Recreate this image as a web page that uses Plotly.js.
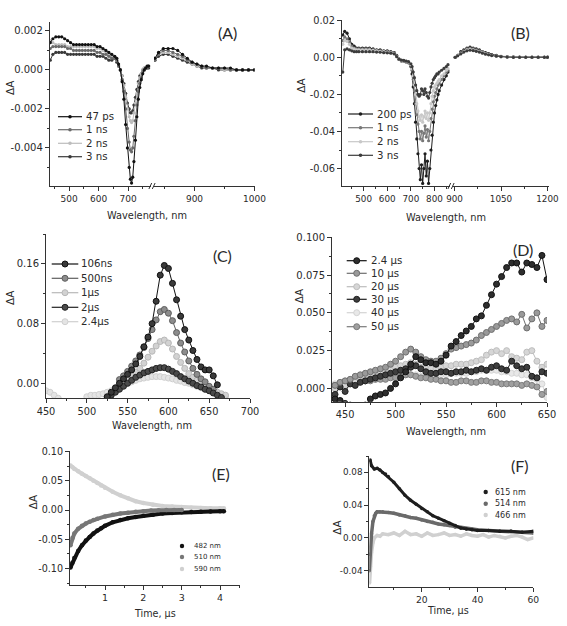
<!DOCTYPE html>
<html><head><meta charset="utf-8">
<script src="https://cdn.plot.ly/plotly-3.0.1.min.js"></script>
<style>html,body{margin:0;padding:0;background:#fff;}#chart{width:567px;height:626px;}</style>
</head><body><div id="chart"></div>
<script>
// ---------------- Panel A ----------------
const A_names = ['47 ps','1 ns','2 ns','3 ns'];
const A_wlL = [436,445,455,465,475,485,495,505,515,525,535,545,555,565,575,585,595,605,615,625,635,645,655,662,668,674,680,686,692,698,704,708,712,716,720,725,730,735,740,745,750,755,760,765,770];
const A_47ps = [0.0014,0.0016,0.0017,0.0017,0.0017,0.0016,0.0015,0.0014,0.0013,0.0013,0.0013,0.0013,0.0013,0.0013,0.0013,0.0013,0.0012,0.0012,0.0011,0.0010,0.0009,0.0008,0.0007,0.0006,0.0003,0.0000,-0.0006,-0.0015,-0.0028,-0.0040,-0.0050,-0.0056,-0.0058,-0.0055,-0.0047,-0.0036,-0.0024,-0.0015,-0.0009,-0.0005,-0.0002,0.0000,0.0001,0.0002,0.0002];
const A_1ns = [0.0011,0.0012,0.0012,0.0012,0.0012,0.0012,0.0011,0.0011,0.0010,0.0010,0.0010,0.0010,0.0010,0.0010,0.0010,0.0010,0.0009,0.0009,0.0008,0.0008,0.0007,0.0006,0.0006,0.0005,0.0002,0.0000,-0.0005,-0.0011,-0.0020,-0.0030,-0.0037,-0.0041,-0.0042,-0.0040,-0.0034,-0.0026,-0.0018,-0.0011,-0.0007,-0.0004,-0.0001,0.0000,0.0001,0.0001,0.0002];
const A_2ns = [0.0015,0.0014,0.0013,0.0013,0.0013,0.0013,0.0012,0.0012,0.0012,0.0012,0.0012,0.0012,0.0012,0.0012,0.0012,0.0012,0.0011,0.0011,0.0010,0.0009,0.0008,0.0007,0.0007,0.0005,0.0002,0.0000,-0.0003,-0.0008,-0.0014,-0.0020,-0.0024,-0.0026,-0.0027,-0.0026,-0.0022,-0.0017,-0.0012,-0.0007,-0.0004,-0.0002,0.0000,0.0001,0.0001,0.0002,0.0002];
const A_3ns = [0.0005,0.0008,0.0009,0.0009,0.0009,0.0009,0.0008,0.0008,0.0008,0.0008,0.0008,0.0008,0.0008,0.0008,0.0008,0.0008,0.0007,0.0007,0.0007,0.0006,0.0005,0.0005,0.0006,0.0004,0.0002,0.0000,-0.0003,-0.0007,-0.0012,-0.0017,-0.0020,-0.0022,-0.0022,-0.0021,-0.0018,-0.0014,-0.0010,-0.0006,-0.0003,-0.0002,0.0000,0.0001,0.0001,0.0001,0.0001];
const A_wlR = [834,840,848,856,864,872,880,888,896,904,912,920,930,940,950,960,970,980,990,1000];
const A_47psR = [0.0006,0.0009,0.0011,0.0011,0.0011,0.0010,0.0008,0.0006,0.0004,0.0003,0.0002,0.0002,0.0001,0.0001,0.0001,0.0001,0.0000,0.0000,0.0000,0.0000];
const A_1nsR = [0.0005,0.0008,0.0010,0.0010,0.0009,0.0008,0.0007,0.0005,0.0004,0.0003,0.0002,0.0001,0.0001,0.0001,0.0001,0.0000,0.0000,0.0000,0.0000,0.0000];
const A_2nsR = [0.0006,0.0008,0.0009,0.0009,0.0008,0.0007,0.0006,0.0005,0.0003,0.0002,0.0002,0.0001,0.0001,0.0001,0.0000,0.0000,0.0000,0.0000,0.0000,0.0000];
const A_3nsR = [0.0005,0.0007,0.0008,0.0008,0.0007,0.0006,0.0005,0.0004,0.0003,0.0002,0.0001,0.0001,0.0001,0.0000,0.0000,0.0000,0.0000,0.0000,0.0000,0.0000];
const A_ytick = [-0.004,-0.002,0,0.002];
const A_ytext = ['-0.004','-0.002','0.000','0.002'];

// ---------------- Panel B ----------------
const B_names = ['200 ps','1 ns','2 ns','3 ns'];
const B_wlL = [412,420,430,440,450,460,470,480,495,510,525,540,555,570,585,600,615,630,640,650,660,670,680,690,700,705,710,715,720,725,730,735,740,745,750,755,760,765,770,775,780,785,790,795,800,805,810,815,820,830,840,850,857];
const B_200ps = [0.012,0.014,0.013,0.010,0.007,0.006,0.005,0.005,0.005,0.005,0.005,0.0045,0.004,0.004,0.0035,0.0035,0.003,0.0025,0.001,-0.001,-0.002,-0.002,-0.0025,-0.003,-0.005,-0.009,-0.016,-0.025,-0.035,-0.044,-0.052,-0.060,-0.066,-0.058,-0.068,-0.060,-0.052,-0.064,-0.056,-0.068,-0.060,-0.050,-0.042,-0.035,-0.030,-0.026,-0.023,-0.020,-0.018,-0.015,-0.012,-0.010,-0.008];
const B_1ns = [0.009,0.011,0.010,0.008,0.006,0.005,0.0045,0.0045,0.0045,0.0045,0.0045,0.004,0.0038,0.0035,0.0033,0.003,0.0028,0.0022,0.0008,-0.001,-0.0018,-0.002,-0.0023,-0.0028,-0.0045,-0.007,-0.012,-0.018,-0.025,-0.031,-0.036,-0.040,-0.044,-0.040,-0.045,-0.041,-0.037,-0.043,-0.039,-0.045,-0.040,-0.033,-0.028,-0.024,-0.021,-0.019,-0.017,-0.015,-0.014,-0.012,-0.010,-0.008,-0.007];
const B_2ns = [0.007,0.009,0.0085,0.007,0.005,0.0045,0.004,0.004,0.004,0.004,0.004,0.0037,0.0035,0.0032,0.003,0.0028,0.0025,0.002,0.0005,-0.001,-0.0016,-0.0018,-0.002,-0.0025,-0.004,-0.006,-0.010,-0.015,-0.020,-0.025,-0.029,-0.032,-0.034,-0.031,-0.035,-0.032,-0.029,-0.033,-0.030,-0.034,-0.030,-0.025,-0.021,-0.018,-0.016,-0.015,-0.014,-0.013,-0.012,-0.010,-0.009,-0.007,-0.006];
const B_3ns = [-0.008,0.004,0.0045,0.004,0.0035,0.003,0.003,0.003,0.003,0.003,0.003,0.003,0.0028,0.0027,0.0025,0.0024,0.0022,0.0018,0.0003,-0.001,-0.0015,-0.0017,-0.002,-0.0023,-0.0035,-0.005,-0.008,-0.011,-0.015,-0.018,-0.020,-0.021,-0.020,-0.017,-0.018,-0.020,-0.017,-0.019,-0.021,-0.022,-0.019,-0.016,-0.014,-0.012,-0.011,-0.010,-0.009,-0.009,-0.008,-0.007,-0.006,-0.005,-0.004];
const B_wlR = [902,910,920,930,940,950,960,970,980,990,1000,1010,1020,1035,1050,1070,1090,1110,1130,1150,1170,1190,1200];
const B_200psR = [0.000,0.001,0.003,0.004,0.005,0.0055,0.005,0.0045,0.004,0.003,0.0025,0.002,0.0015,0.001,0.0005,0.0003,0.0002,0.0001,0.0001,0.0001,0.0001,0.0001,0.0001];
const B_1nsR = [0.000,0.001,0.0025,0.0035,0.0045,0.005,0.0045,0.004,0.0035,0.003,0.002,0.0017,0.0012,0.0008,0.0004,0.0002,0.0001,0.0001,0.0000,0.0000,0.0000,0.0000,0.0000];
const B_2nsR = [0.000,0.001,0.002,0.003,0.004,0.0043,0.004,0.0035,0.003,0.0025,0.002,0.0015,0.001,0.0007,0.0003,0.0002,0.0001,0.0000,0.0000,0.0000,0.0000,0.0000,0.0000];
const B_3nsR = [0.000,0.0008,0.0018,0.0028,0.0035,0.0038,0.0036,0.0032,0.0028,0.0022,0.0017,0.0013,0.0009,0.0006,0.0003,0.0001,0.0000,0.0000,0.0000,0.0000,0.0000,0.0000,0.0000];
const B_ytick = [-0.06,-0.04,-0.02,0,0.02];
const B_ytext = ['-0.06','-0.04','-0.02','0.00','0.02'];

// ---------------- Panel C ----------------
const C_names = ['106ns','500ns','1\u00b5s','2\u00b5s','2.4\u00b5s'];
const C_wl106 = [525,530,535,540,545,550,555,560,565,570,575,580,585,590,595,600,605,610,615,620,625,630,635,640,645,650,655,660];
const C_106ns = [-0.018,-0.012,-0.006,0.000,0.006,0.012,0.018,0.026,0.036,0.049,0.062,0.080,0.110,0.145,0.158,0.154,0.134,0.112,0.090,0.072,0.058,0.044,0.032,0.022,0.018,0.018,0.010,-0.002];
const C_wl500 = [540,545,550,555,560,565,570,575,580,585,590,595,600,605,610,615,620,625,630,635,640,645,650,655];
const C_500ns = [0.005,0.010,0.016,0.023,0.030,0.038,0.048,0.060,0.072,0.085,0.096,0.099,0.094,0.084,0.068,0.054,0.042,0.030,0.020,0.012,0.006,0.002,-0.004,-0.008];
const C_wl1us = [545,550,555,560,565,570,575,580,585,590,595,600,605,610,615,620,625,630,635,640,645,650,655,660,665,670];
const C_1us = [0.002,0.006,0.010,0.015,0.020,0.027,0.035,0.043,0.050,0.056,0.058,0.054,0.046,0.036,0.028,0.020,0.013,0.008,0.004,0.000,-0.003,-0.006,-0.010,-0.012,-0.014,-0.016];
const C_wl2us = [525,530,535,540,545,550,555,560,565,570,575,580,585,590,595,600,605,610,615,620,625,630,635,640,645,650,655,660,665];
const C_2us = [-0.020,-0.016,-0.012,-0.008,-0.004,0.000,0.004,0.008,0.011,0.014,0.016,0.018,0.020,0.021,0.021,0.019,0.016,0.013,0.009,0.006,0.003,0.000,-0.003,-0.005,-0.008,-0.010,-0.013,-0.016,-0.019];
const C_wl24us = [450,455,460,465,470,475,480,485,490,495,500,505,510,515,520,525,530,535,540,545,550,555,560,565,570,575,580,585,590,595,600,605,610,615,620,625,630,635,640,645,650,655,660,665,670];
const C_24us = [-0.010,-0.012,-0.016,-0.020,null,null,null,null,null,null,-0.018,-0.016,-0.016,-0.015,-0.014,-0.012,-0.010,-0.008,-0.005,-0.002,0.000,0.002,0.004,0.006,0.007,0.008,0.009,0.009,0.009,0.008,0.007,0.006,0.004,0.003,0.001,0.000,-0.002,-0.004,-0.006,-0.008,-0.010,-0.012,-0.014,-0.016,-0.018];
const C_ytick = [0,0.08,0.16];
const C_ytext = ['0.00','0.08','0.16'];

// ---------------- Panel D ----------------
const D_names = ['2.4 \u00b5s','10 \u00b5s','20 \u00b5s','30 \u00b5s','40 \u00b5s','50 \u00b5s'];
const D_wl = [440,445,450,455,460,465,470,475,480,485,490,495,500,505,510,515,520,525,530,535,540,545,550,555,560,565,570,575,580,585,590,595,600,605,610,615,620,625,630,635,640,645,650];
const D_24us = [-0.007,-0.008,-0.010,-0.011,-0.012,-0.012,-0.011,-0.007,-0.005,-0.004,-0.003,0.000,0.003,0.007,0.011,0.016,0.021,0.019,0.017,0.017,0.016,0.018,0.022,0.028,0.031,0.035,0.038,0.041,0.046,0.048,0.055,0.062,0.069,0.074,0.080,0.083,0.083,0.077,0.083,0.082,0.080,0.088,0.072];
const D_10us = [0.002,0.004,0.005,0.006,0.008,0.009,0.010,0.011,0.012,0.013,0.014,0.016,0.018,0.021,0.024,0.026,0.024,0.021,0.019,0.018,0.018,0.020,0.023,0.026,0.027,0.028,0.029,0.030,0.032,0.035,0.037,0.039,0.041,0.043,0.045,0.046,0.044,0.049,0.040,0.046,0.050,0.041,0.045];
const D_20us = [0.000,0.001,0.002,0.003,0.004,0.005,0.006,0.007,0.009,0.010,0.011,0.012,0.014,0.015,0.016,0.017,0.016,0.014,0.013,0.013,0.013,0.014,0.015,0.015,0.016,0.016,0.016,0.017,0.018,0.019,0.022,0.024,0.025,0.023,0.025,0.021,0.020,0.019,0.024,0.025,0.018,0.014,0.016];
const D_30us = [-0.004,0.001,-0.002,0.003,0.002,0.004,0.005,0.006,0.007,0.008,0.009,0.010,0.011,0.012,0.013,0.014,0.015,0.013,0.011,0.010,0.010,0.011,0.011,0.010,0.011,0.011,0.012,0.011,0.012,0.013,0.012,0.014,0.015,0.013,0.012,0.018,0.015,0.013,0.014,0.008,0.007,0.011,0.010];
const D_40us = [0.003,0.003,0.004,0.004,0.004,0.005,0.005,0.006,0.006,0.007,0.007,0.008,0.008,0.009,0.009,0.009,0.009,0.008,0.008,0.008,0.008,0.009,0.009,0.010,0.010,0.010,0.010,0.011,0.011,0.012,0.012,0.012,0.012,0.011,0.011,0.010,0.010,0.009,0.009,0.007,0.006,0.003,-0.006];
const D_50us = [0.002,0.003,0.003,0.004,0.004,0.005,0.005,0.005,0.006,0.006,0.006,0.007,0.007,0.008,0.009,0.009,0.008,0.007,0.007,0.006,0.006,0.005,0.005,0.004,0.004,0.005,0.005,0.004,0.004,0.005,0.005,0.004,0.004,0.003,0.003,0.003,0.003,0.002,0.003,0.002,0.001,-0.004,-0.002];
const D_ytick = [0,0.025,0.05,0.075,0.1];
const D_ytext = ['0.000','0.025','0.050','0.075','0.100'];

// ---------------- Panel E ----------------
const E_names = ['482 nm','510 nm','590 nm'];
const E_t482 = [0.1,0.15,0.2,0.3,0.4,0.5,0.6,0.7,0.8,0.9,1.0,1.2,1.4,1.6,1.8,2.0,2.25,2.5,2.75,3.0,3.25,3.5,3.75,4.0,4.1];
const E_482 = [-0.098,-0.090,-0.082,-0.070,-0.060,-0.052,-0.046,-0.040,-0.035,-0.031,-0.027,-0.021,-0.017,-0.014,-0.012,-0.010,-0.008,-0.006,-0.005,-0.004,-0.0035,-0.003,-0.0025,-0.002,-0.002];
const E_t510 = [0.1,0.15,0.2,0.3,0.4,0.5,0.6,0.7,0.8,1.0,1.2,1.4,1.6,1.8,2.0,2.2,2.4,2.6,2.8,3.0];
const E_510 = [-0.060,-0.048,-0.040,-0.032,-0.027,-0.023,-0.020,-0.017,-0.015,-0.011,-0.008,-0.006,-0.0045,-0.003,-0.002,-0.001,-0.0005,0.000,0.000,0.000];
const E_t590 = [0.1,0.15,0.2,0.3,0.4,0.5,0.6,0.7,0.8,0.9,1.0,1.2,1.4,1.6,1.8,2.0,2.25,2.5,2.75,3.0,3.25,3.5,3.75,4.0,4.1];
const E_590 = [0.076,0.073,0.070,0.066,0.062,0.058,0.054,0.050,0.046,0.042,0.038,0.031,0.025,0.020,0.015,0.012,0.009,0.007,0.006,0.005,0.004,0.0035,0.003,0.003,0.003];
const E_ytick = [-0.1,-0.05,0,0.05,0.1];
const E_ytext = ['-0.10','-0.05','0.00','0.05','0.10'];

// ---------------- Panel F ----------------
const F_names = ['615 nm','514 nm','466 nm'];
const F_t615 = [1.5,2,3,4,5,6,7,8,10,12,14,16,18,20,22,24,26,28,30,32,34,36,38,40,44,48,52,56,60];
const F_615 = [0.095,0.088,0.084,0.085,0.083,0.080,0.078,0.075,0.068,0.060,0.052,0.046,0.041,0.036,0.032,0.027,0.024,0.021,0.018,0.015,0.012,0.011,0.010,0.009,0.009,0.008,0.008,0.007,0.008];
const F_t514 = [1.2,1.5,2,2.5,3,3.5,4,5,6,8,10,12,14,16,18,20,22,24,26,28,30,32,34,36,38,40,44,48,52,56,60];
const F_514 = [-0.040,-0.020,0.005,0.020,0.027,0.030,0.032,0.032,0.032,0.031,0.030,0.028,0.027,0.025,0.024,0.022,0.020,0.019,0.017,0.016,0.015,0.013,0.012,0.011,0.011,0.010,0.009,0.008,0.008,0.007,0.006];
const F_t466 = [1.3,1.6,2,2.5,3,4,5,6,8,10,12,14,16,18,20,22,24,26,28,30,32,34,36,38,40,42,44,46,48,50,52,54,56,58,60];
const F_466 = [-0.055,-0.035,-0.018,-0.006,0.000,0.003,0.002,0.005,0.004,0.006,0.003,0.008,0.004,0.005,0.002,0.006,0.003,0.004,0.006,0.003,0.004,0.002,0.005,0.003,0.002,0.004,0.001,0.003,0.002,0.000,0.002,0.003,0.001,-0.002,0.000];
const F_ytick = [-0.04,0,0.04,0.08];
const F_ytext = ['-0.04','0.00','0.04','0.08'];

// ---------------- drawing ----------------
const W = 567, H = 626;
const X = px => px / W, Y = py => 1 - py / H;
const FONT = 'DejaVu Sans, Liberation Sans, sans-serif';
const TXT = '#2a2a2a';

function tr(x, y, xa, ya, color, o) {
  o = o || {};
  return {type:'scatter', mode:o.mode || 'lines+markers', x:x, y:y, xaxis:xa, yaxis:ya,
    line:{color:o.lc || color, width:o.lw || 1}, connectgaps:false,
    marker:{color:color, size:o.ms || 3, symbol:'circle', line:{color:o.mlc || color, width:o.mlw || 0}},
    showlegend:false, hoverinfo:'skip'};
}

const traces = [];
// A
const A_col = ['#111111','#6a6a6a','#bdbdbd','#3a3a3a'];
const A_L = [A_47ps, A_1ns, A_2ns, A_3ns], A_R = [A_47psR, A_1nsR, A_2nsR, A_3nsR];
[3,2,1,0].forEach(i => {
  traces.push(tr(A_wlL, A_L[i], 'x', 'y', A_col[i], {ms:3.2}));
  traces.push(tr(A_wlR, A_R[i], 'x2', 'y', A_col[i], {ms:3.2}));
});
// B
const B_col = ['#1e1e1e','#777777','#c8c8c8','#3c3c3c'];
const B_L = [B_200ps, B_1ns, B_2ns, B_3ns], B_R = [B_200psR, B_1nsR, B_2nsR, B_3nsR];
[0,1,2,3].forEach(i => {
  traces.push(tr(B_wlL, B_L[i], 'x3', 'y2', B_col[i], {ms:3.2}));
  traces.push(tr(B_wlR, B_R[i], 'x4', 'y2', B_col[i], {ms:3.2}));
});
// C
const C_fill = ['#3a3a3a','#8c8c8c','#d2d2d2','#4a4a4a','#e4e4e4'];
const C_line = ['#111111','#5e5e5e','#b8b8b8','#222222','#d0d0d0'];
const C_x = [C_wl106, C_wl500, C_wl1us, C_wl2us, C_wl24us], C_y = [C_106ns, C_500ns, C_1us, C_2us, C_24us];
[4,2,1,3,0].forEach(i => traces.push(tr(C_x[i], C_y[i], 'x5', 'y3', C_fill[i], {lc:C_line[i], ms:6, mlc:C_line[i], mlw:1})));
// D
const D_fill = ['#2e2e2e','#9a9a9a','#d6d6d6','#3e3e3e','#e8e8e8','#a0a0a0'];
const D_line = ['#111111','#6e6e6e','#bdbdbd','#1e1e1e','#d4d4d4','#7a7a7a'];
const D_y = [D_24us, D_10us, D_20us, D_30us, D_40us, D_50us];
[4,5,2,3,1,0].forEach(i => traces.push(tr(D_wl, D_y[i], 'x6', 'y4', D_fill[i], {lc:D_line[i], ms:6, mlc:D_line[i], mlw:1})));
// E
const E_col = ['#111111','#777777','#d0d0d0'];
traces.push(tr(E_t590, E_590, 'x7', 'y5', E_col[2], {lw:4, ms:4.5}));
traces.push(tr(E_t482, E_482, 'x7', 'y5', E_col[0], {lw:4, ms:4.5}));
traces.push(tr(E_t510, E_510, 'x7', 'y5', E_col[1], {lw:4, ms:4.5}));
// F
const F_col = ['#1e1e1e','#6a6a6a','#d0d0d0'];
traces.push(tr(F_t466, F_466, 'x8', 'y6', F_col[2], {lw:3.5, ms:3.5}));
traces.push(tr(F_t514, F_514, 'x8', 'y6', F_col[1], {lw:3.5, ms:3.5}));
traces.push(tr(F_t615, F_615, 'x8', 'y6', F_col[0], {lw:3, ms:3.5}));

const baseAx = {showline:true, linecolor:'#333', linewidth:1, ticks:'outside', ticklen:4, tickwidth:1, tickcolor:'#333',
  showgrid:false, zeroline:false, fixedrange:true};
function xAx(d0, d1, range, anchor, tv, mdt, m0, fs) {
  return Object.assign({}, baseAx, {domain:[X(d0), X(d1)], range:range, anchor:anchor, tickmode:'array', tickvals:tv,
    tickfont:{family:FONT, size:fs, color:TXT},
    minor:{tickmode:'linear', tick0:m0, dtick:mdt, ticks:'outside', ticklen:2, tickcolor:'#333', showgrid:false}});
}
function yAx(d0, d1, range, anchor, tv, tt, mdt, fs) {
  return Object.assign({}, baseAx, {domain:[Y(d1), Y(d0)], range:range, anchor:anchor, tickmode:'array', tickvals:tv, ticktext:tt,
    tickfont:{family:FONT, size:fs, color:TXT},
    minor:{tickmode:'linear', tick0:0, dtick:mdt, ticks:'outside', ticklen:2, tickcolor:'#333', showgrid:false}});
}

const layout = {
  width:W, height:H, margin:{l:0, r:0, t:0, b:0}, showlegend:false,
  paper_bgcolor:'#ffffff', plot_bgcolor:'rgba(0,0,0,0)', font:{family:FONT, color:TXT},
  xaxis:  xAx(49.8, 151, [434.5, 778], 'y', [500,600,700], 50, 450, 9),
  xaxis2: xAx(154, 254.5, [832.5, 1000], 'y', [900,1000], 50, 850, 9),
  yaxis:  yAx(22, 186, [-0.00595, 0.00246], 'x', A_ytick, A_ytext, 0.001, 10),
  xaxis3: xAx(342, 450, [408.6, 865.6], 'y2', [500,600,700,800], 50, 450, 8.8),
  xaxis4: xAx(453, 549, [895, 1205], 'y2', [900,1050,1200], 75, 900, 8.8),
  yaxis2: yAx(20, 186, [-0.0694, 0.0201], 'x3', B_ytick, B_ytext, 0.01, 9.8),
  xaxis5: xAx(46, 250, [450, 700], 'y3', [450,500,550,600,650,700], 25, 450, 9.8),
  yaxis3: yAx(234, 398.3, [-0.0201, 0.2002], 'x5', C_ytick, C_ytext, 0.04, 10),
  xaxis6: xAx(332, 547, [437, 650], 'y4', [450,500,550,600,650], 25, 450, 9.8),
  yaxis4: yAx(237.3, 401.7, [-0.0088, 0.1], 'x6', D_ytick, D_ytext, 0.0125, 10),
  xaxis7: xAx(70, 240, [0.087, 4.52], 'y5', [1,2,3,4], 0.5, 0, 9.5),
  yaxis5: yAx(450.7, 585, [-0.128, 0.1012], 'x7', E_ytick, E_ytext, 0.025, 9.6),
  xaxis8: xAx(369.3, 533.3, [1.2, 60], 'y6', [20,40,60], 10, 0, 9.2),
  yaxis6: yAx(456, 586.7, [-0.0596, 0.1], 'x8', F_ytick, F_ytext, 0.02, 8.8),
  shapes:[], annotations:[]
};

function ann(px, py, text, size, o) {
  o = o || {};
  layout.annotations.push(Object.assign({xref:'paper', yref:'paper', x:X(px), y:Y(py), text:text, showarrow:false,
    xanchor:'center', yanchor:'middle', font:{family:o.family || FONT, size:size, color:TXT}}, o.extra || {}));
}
// panel labels
[['(A)',227,32],['(B)',520,33],['(C)',222,255],['(D)',523,250],['(E)',221,473],['(F)',520,465]]
  .forEach(p => ann(p[1], p[2], p[0], 16, {family:'Lato, Open Sans, sans-serif'}));
// axis titles
[['Wavelength, nm',147,215],['Wavelength, nm',446,217],['Wavelength, nm',152,425],['Wavelength, nm',446,431]]
  .forEach(p => ann(p[1], p[2], p[0], 9.8));
[['Time, \u00b5s',155,613],['Time, \u00b5s',448,610]].forEach(p => ann(p[1], p[2], p[0], 9.6));
[[10,88],[300.7,85],[10,298],[299.3,296],[33.3,502],[336.7,527]].forEach(p => ann(p[0], p[1], '\u0394A', 10.5, {extra:{textangle:-90}}));

// break marks
[152.5, 451.5].forEach(bx => {
  [-2.2, 1.2].forEach(d => layout.shapes.push({type:'line', xref:'paper', yref:'paper',
    x0:X(bx + d - 1.4), y0:Y(189), x1:X(bx + d + 1.4), y1:Y(183), line:{color:'#333', width:1}}));
});

// legends
function legend(names, fills, lines, x0, x1, ys, tx, r, size, withLine) {
  names.forEach((n, i) => {
    const y = ys[i], cx = (x0 + x1) / 2;
    if (withLine) layout.shapes.push({type:'line', xref:'paper', yref:'paper', x0:X(x0), x1:X(x1), y0:Y(y), y1:Y(y),
      line:{color:lines[i], width:1.2}});
    layout.shapes.push({type:'circle', xref:'paper', yref:'paper', x0:X(cx - r), x1:X(cx + r), y0:Y(y + r), y1:Y(y - r),
      fillcolor:fills[i], line:{color:lines[i], width:withLine && r > 2 ? 1 : 0}});
    ann(tx, y, n, size, {extra:{xanchor:'left'}});
  });
}
legend(A_names, A_col, A_col, 58, 82, [116.7,129.7,143.3,156.7], 83.5, 1.8, 10.2, true);
legend(B_names, B_col, B_col, 348, 373, [114,127.7,141.7,155.3], 374.5, 1.8, 10.2, true);
legend(C_names, C_fill, C_line, 51.7, 78.3, [264,278.3,292.7,307.3,321.7], 78.5, 3, 10.2, true);
legend(D_names, D_fill, D_line, 346.7, 366.7, [260.7,273.3,286.7,299.3,312.7,326.7], 368.5, 3, 10.2, true);
legend(E_names, E_col, E_col, 182, 182, [546,557,569], 192, 2.2, 7, false);
legend(F_names, F_col, F_col, 485.7, 485.7, [492,503.7,515], 493, 2.2, 8, false);

Plotly.newPlot('chart', traces, layout, {staticPlot:true, displayModeBar:false});
</script></body></html>
